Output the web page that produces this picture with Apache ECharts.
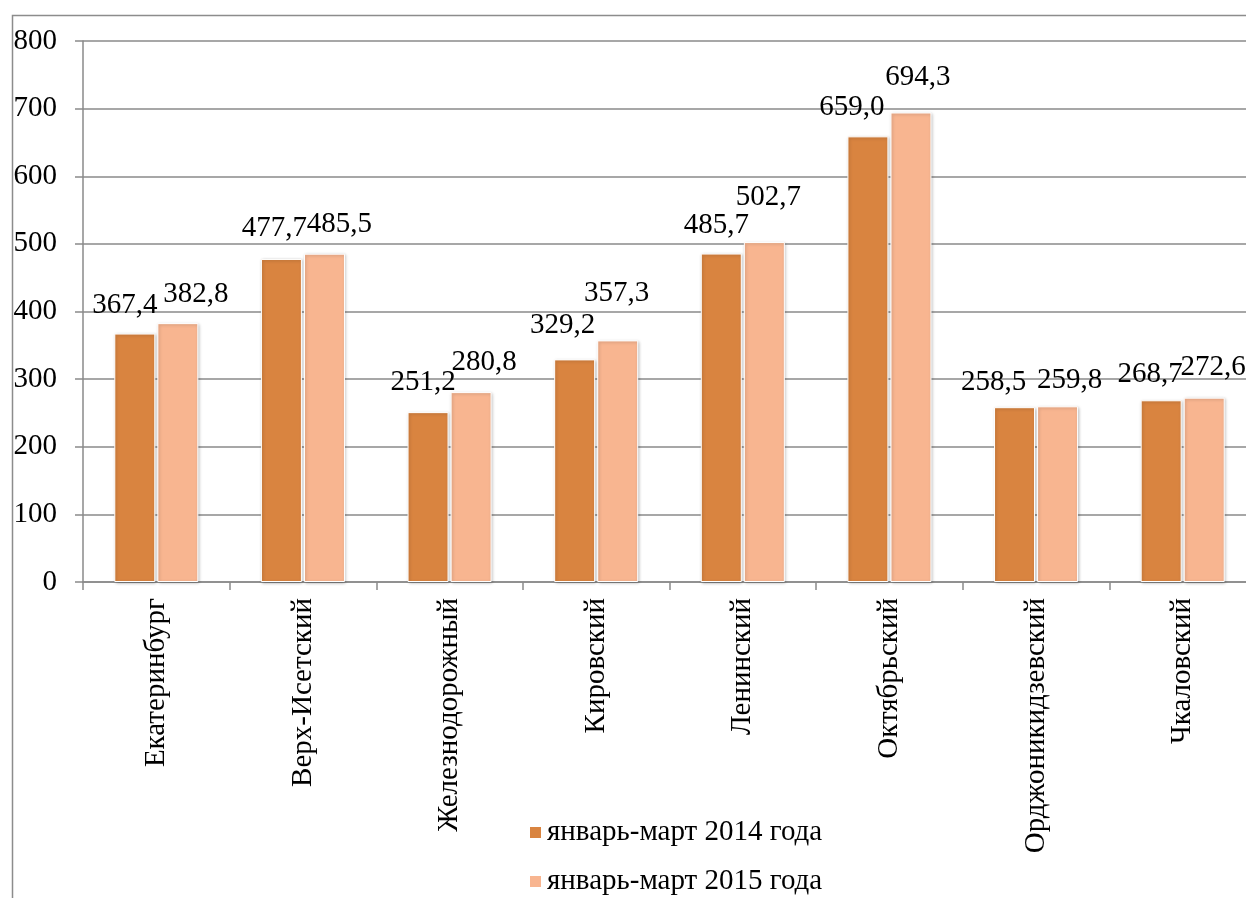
<!DOCTYPE html>
<html>
<head>
<meta charset="utf-8">
<script src="https://cdn.jsdelivr.net/npm/echarts@6/dist/echarts.min.js"></script>
<style>
html,body{margin:0;padding:0;background:#fff;}
#chart{width:1246px;height:898px;}
</style>
</head>
<body>
<div id="chart"></div>
<script>
const categories = ['Екатеринбург','Верх-Исетский','Железнодорожный','Кировский','Ленинский','Октябрьский','Орджоникидзевский','Чкаловский'];
const seriesNames = ['январь-март 2014 года','январь-март 2015 года'];
const values2014 = [367.4, 477.7, 251.2, 329.2, 485.7, 659.0, 258.5, 268.7];
const values2015 = [382.8, 485.5, 280.8, 357.3, 502.7, 694.3, 259.8, 272.6];
const yTicks = {min: 0, max: 800, interval: 100};

// label offsets (style only)
const offs2014 = [[-10,-9],[-7,-11],[-5,-10],[-12,-14],[-5,-9],[-16,-9],[-21,-5],[-11,-6]];
const offs2015 = [[18,-9],[15,-10],[13,-10],[-1,-27],[4,-25],[7,-16],[12,-6],[9,-11]];

const FONT = 'Liberation Serif';
const FS = 29;
const fmt = p => p.value.toFixed(1).replace('.', ',');

function mk(vals, offs){
  return vals.map((v,i)=>({value:v, label:{offset:offs[i]}}));
}

const chart = echarts.init(document.getElementById('chart'));
const barStyle = c => ({color:c, borderColor:'#fff', borderWidth:1, shadowBlur:3, shadowColor:'rgba(0,0,0,0.25)', shadowOffsetX:1, shadowOffsetY:1});
const legendBase = {orient:'vertical', left:528, padding:0, itemWidth:13, itemHeight:13, itemGap:0, icon:'rect',
  textStyle:{fontFamily:FONT, fontSize:FS, color:'#000'}};
chart.setOption({
  animation:false,
  backgroundColor:'#fff',
  textStyle:{fontFamily:FONT},
  graphic:[{type:'rect', left:10, top:13, shape:{width:1400, height:1000}, style:{fill:'none', stroke:'#8c8c8c', lineWidth:1.5}, z:-1}],
  grid:{left:83, width:1173, top:41, height:541, containLabel:false, outerBoundsMode:'none'},
  legend:[
    Object.assign({}, legendBase, {top:818, data:[seriesNames[0]]}),
    Object.assign({}, legendBase, {top:867, data:[seriesNames[1]]})
  ],
  xAxis:{type:'category', data:categories,
    axisLine:{lineStyle:{color:'#8a8a8a', width:1.5}},
    axisTick:{show:true, length:8, lineStyle:{color:'#8a8a8a', width:1.5}, interval:0},
    axisLabel:{rotate:90, interval:0, margin:16, padding:[0,0,10,0], fontFamily:FONT, fontSize:FS, color:'#000'}},
  yAxis:{type:'value', min:yTicks.min, max:yTicks.max, interval:yTicks.interval,
    axisLine:{show:true, lineStyle:{color:'#8a8a8a', width:1.5}},
    axisTick:{show:true, length:8, inside:false, lineStyle:{color:'#8a8a8a', width:1.5}},
    splitLine:{lineStyle:{color:'#8a8a8a', width:1.5}},
    axisLabel:{margin:26, fontFamily:FONT, fontSize:FS, color:'#000'}},
  series:[
    {name:seriesNames[0], type:'bar', barWidth:41, barGap:'5%', data:mk(values2014, offs2014),
     itemStyle:barStyle('#D98440'),
     label:{show:true, position:'top', distance:5, formatter:fmt, fontFamily:FONT, fontSize:FS, color:'#000'}},
    {name:seriesNames[1], type:'bar', barWidth:41, data:mk(values2015, offs2015),
     itemStyle:barStyle('#F8B590'),
     label:{show:true, position:'top', distance:5, formatter:fmt, fontFamily:FONT, fontSize:FS, color:'#000'}}
  ]
});
</script>
</body>
</html>
